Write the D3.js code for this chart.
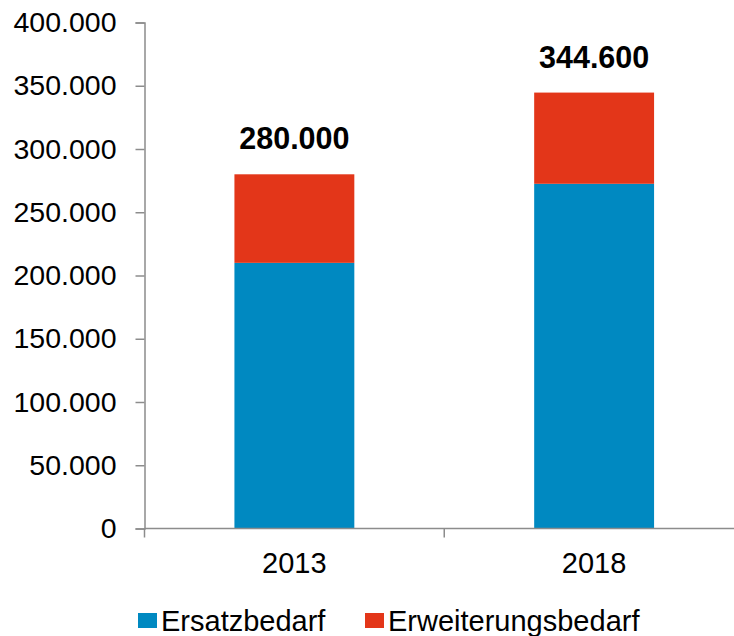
<!DOCTYPE html>
<html>
<head>
<meta charset="utf-8">
<script src="https://cdn.jsdelivr.net/npm/d3@7"></script>
<style>
  html, body { margin: 0; padding: 0; background: #fff; }
  svg { display: block; font-family: "Liberation Sans", Arial, sans-serif; }
</style>
</head>
<body>
<svg id="chart" width="734" height="636"></svg>
<script>
// Jahre und Bedarfskomponenten
const years = ["2013", "2018"];
const ersatzbedarf = [210000, 272500];
const erweiterungsbedarf = [70000, 72100];
const totals = [280000, 344600];
const seriesNames = ["Ersatzbedarf", "Erweiterungsbedarf"];
const seriesColors = ["#0089c1", "#e33619"];
const yTicks = [0, 50000, 100000, 150000, 200000, 250000, 300000, 350000, 400000];

const fmt = v => d3.format(",")(v).replace(/,/g, ".");

const svg = d3.select("#chart");
const plotLeft = 144.5, plotRight = 744, plotTop = 22.5, plotBottom = 528.5;

const x = d3.scaleBand().domain(years).range([plotLeft, plotRight]).paddingInner(0.6).paddingOuter(0.3);
const y = d3.scaleLinear().domain([0, 400000]).range([plotBottom, plotTop]);

const rows = years.map((yr, i) => ({ year: yr, Ersatzbedarf: ersatzbedarf[i], Erweiterungsbedarf: erweiterungsbedarf[i] }));
const stacked = d3.stack().keys(seriesNames)(rows);

// Balken
svg.append("g").selectAll("g").data(stacked).join("g")
  .attr("fill", (d, i) => seriesColors[i])
  .selectAll("rect").data(d => d).join("rect")
  .attr("x", d => x(d.data.year))
  .attr("width", x.bandwidth())
  .attr("y", d => y(d[1]))
  .attr("height", d => y(d[0]) - y(d[1]));

// Y-Achse
const yAxis = svg.append("g").attr("transform", `translate(${plotLeft},0)`)
  .call(d3.axisLeft(y).tickValues(yTicks).tickFormat(fmt).tickSize(9).tickPadding(19));
yAxis.select(".domain").attr("stroke", "#8c8c8c").attr("stroke-width", 1.5);
yAxis.selectAll(".tick line").attr("stroke", "#8c8c8c").attr("stroke-width", 1.5);
yAxis.selectAll(".tick text").attr("font-size", 28.5).attr("fill", "#000")
  .attr("font-family", "Liberation Sans, Arial, sans-serif");

// X-Achse mit Trennstrichen zwischen den Kategorien
const xg = svg.append("g");
xg.append("line").attr("x1", plotLeft).attr("x2", 734).attr("y1", plotBottom).attr("y2", plotBottom)
  .attr("stroke", "#8c8c8c").attr("stroke-width", 1.5);
const seps = [plotLeft, plotLeft + (plotRight - plotLeft) / 2];
xg.selectAll("line.sep").data(seps).join("line").attr("class", "sep")
  .attr("x1", d => d).attr("x2", d => d).attr("y1", plotBottom).attr("y2", plotBottom + 9)
  .attr("stroke", "#8c8c8c").attr("stroke-width", 1.5);
xg.selectAll("text").data(years).join("text")
  .attr("x", d => x(d) + x.bandwidth() / 2)
  .attr("y", 573)
  .attr("text-anchor", "middle")
  .attr("font-size", 29)
  .text(d => d);

// Summenbeschriftung
svg.append("g").selectAll("text").data(totals).join("text")
  .attr("x", (d, i) => x(years[i]) + x.bandwidth() / 2)
  .attr("y", d => y(d) - 25)
  .attr("text-anchor", "middle")
  .attr("font-size", 30.5)
  .attr("font-weight", "bold")
  .text(d => fmt(d));

// Legende
const legendX = [138, 365];
const lg = svg.append("g").selectAll("g").data(seriesNames).join("g")
  .attr("transform", (d, i) => `translate(${legendX[i]},613)`);
lg.append("rect").attr("width", 19).attr("height", 15).attr("fill", (d, i) => seriesColors[i]);
lg.append("text").attr("x", 23).attr("y", 17.5).attr("font-size", 29).text(d => d);
</script>
</body>
</html>
